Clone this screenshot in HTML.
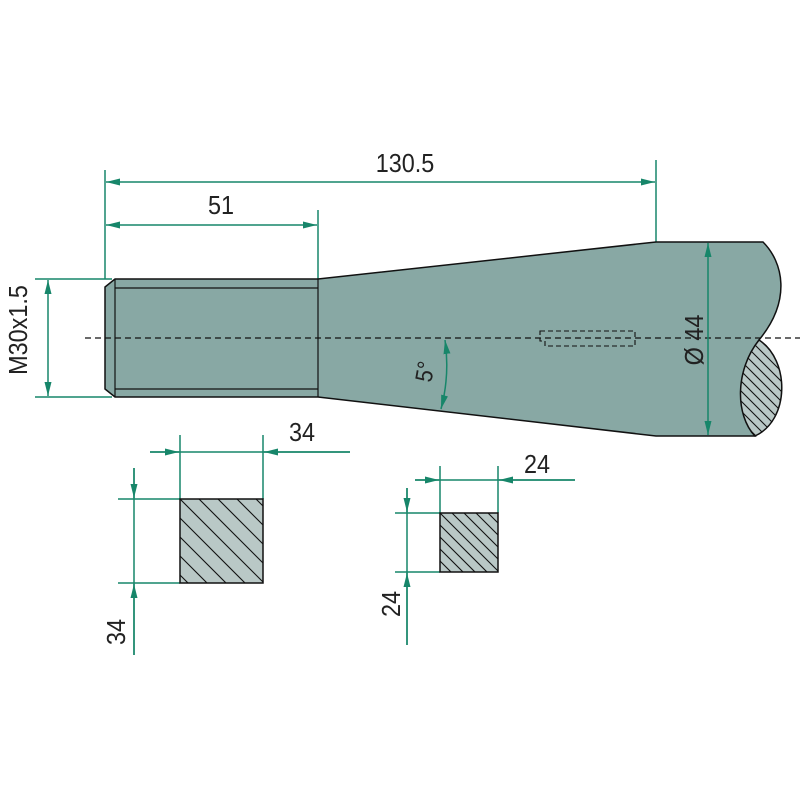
<!DOCTYPE html>
<html><head><meta charset="utf-8"><style>html,body{margin:0;padding:0;background:#fff}svg{display:block}text{font-family:"Liberation Sans",sans-serif;fill:#222}</style></head><body>
<svg width="800" height="800" viewBox="0 0 800 800" xmlns="http://www.w3.org/2000/svg">
<defs>
<marker id="a" viewBox="0 0 14 7" refX="14" refY="3.5" markerWidth="14" markerHeight="7" orient="auto-start-reverse" markerUnits="userSpaceOnUse"><path d="M0,0 L14,3.5 L0,7 z" fill="#17866a"/></marker>
<clipPath id="c1"><rect x="180" y="499" width="83" height="84"/></clipPath>
<clipPath id="c2"><rect x="440" y="513" width="58" height="59"/></clipPath>
<clipPath id="c3"><path d="M759,340 C790,360 790,420 755,436 C735,415 735,370 759,340 z"/></clipPath>
</defs>
<g stroke="#17866a" stroke-width="1.5" fill="none">
<line x1="105" y1="170" x2="105" y2="279"/><line x1="656" y1="160" x2="656" y2="242"/>
<line x1="318" y1="210" x2="318" y2="279"/>
<line x1="106" y1="182" x2="655" y2="182" marker-start="url(#a)" marker-end="url(#a)"/>
<line x1="106" y1="225" x2="317" y2="225" marker-start="url(#a)" marker-end="url(#a)"/>
<line x1="35" y1="279" x2="112" y2="279"/><line x1="35" y1="397" x2="112" y2="397"/>
<line x1="48" y1="280" x2="48" y2="396" marker-start="url(#a)" marker-end="url(#a)"/>
<line x1="180" y1="435" x2="180" y2="499"/><line x1="263" y1="435" x2="263" y2="499"/>
<line x1="150" y1="452" x2="350" y2="452"/>
<line x1="150" y1="452" x2="179" y2="452" marker-end="url(#a)"/><line x1="350" y1="452" x2="264" y2="452" marker-end="url(#a)"/>
<line x1="118" y1="499" x2="180" y2="499"/><line x1="118" y1="583" x2="180" y2="583"/>
<line x1="134" y1="468" x2="134" y2="655"/>
<line x1="134" y1="468" x2="134" y2="498" marker-end="url(#a)"/><line x1="134" y1="655" x2="134" y2="584" marker-end="url(#a)"/>
<line x1="440" y1="466" x2="440" y2="513"/><line x1="498" y1="466" x2="498" y2="513"/>
<line x1="415" y1="480" x2="575" y2="480"/>
<line x1="415" y1="480" x2="439" y2="480" marker-end="url(#a)"/><line x1="575" y1="480" x2="499" y2="480" marker-end="url(#a)"/>
<line x1="395" y1="513" x2="440" y2="513"/><line x1="395" y1="572" x2="440" y2="572"/>
<line x1="407" y1="488" x2="407" y2="645"/>
<line x1="407" y1="488" x2="407" y2="512" marker-end="url(#a)"/><line x1="407" y1="645" x2="407" y2="573" marker-end="url(#a)"/>
</g>
<path d="M115,279 L318,279 L656,242 L763,242 C783,262 792,300 759,340 C738,370 735,415 755,436 L656,436 L318,397 L115,397 L105,389 L105,287 z" fill="#88a8a4" stroke="#111" stroke-width="1.5"/>
<g stroke="#111" stroke-width="1.2" fill="none">
<line x1="115" y1="279" x2="115" y2="397"/><line x1="115" y1="288" x2="318" y2="288"/><line x1="115" y1="389" x2="318" y2="389"/><line x1="318" y1="279" x2="318" y2="397"/>
</g>
<path d="M759,340 C790,360 790,420 755,436 C735,415 735,370 759,340 z" fill="#b9c8c6" stroke="#111" stroke-width="1.5"/>
<g clip-path="url(#c3)" stroke="#111" stroke-width="1.1">
<path d="M700,300 l120,120 M700,310 l120,120 M700,320 l120,120 M700,330 l120,120 M700,340 l120,120 M700,350 l120,120 M700,360 l120,120 M700,370 l120,120 M700,380 l120,120 M700,390 l120,120 M700,290 l120,120 M700,280 l120,120 M700,270 l120,120 M700,260 l120,120 M700,250 l120,120 M700,240 l120,120"/>
</g>
<rect x="180" y="499" width="83" height="84" fill="#b9c8c6" stroke="#111" stroke-width="1.5"/>
<g clip-path="url(#c1)" stroke="#111" stroke-width="1.1">
<path d="M180,480 l110,110 M180,499 l110,110 M180,518 l110,110 M180,537 l110,110 M180,556 l110,110 M180,575 l110,110 M199,499 l110,110 M218,499 l110,110 M237,499 l110,110 M256,499 l110,110"/>
</g>
<rect x="440" y="513" width="58" height="59" fill="#b9c8c6" stroke="#111" stroke-width="1.5"/>
<g clip-path="url(#c2)" stroke="#111" stroke-width="1.1">
<path d="M440,513 l80,80 M440,525 l80,80 M440,537 l80,80 M440,549 l80,80 M440,561 l80,80 M452,513 l80,80 M464,513 l80,80 M476,513 l80,80 M488,513 l80,80"/>
</g>
<line x1="85" y1="338" x2="800" y2="338" stroke="#111" stroke-width="1.3" stroke-dasharray="6,4"/>
<path d="M540,331 L635,331 L635,346 L545,346 L545,341 L540,341 z" fill="none" stroke="#111" stroke-width="1.1" stroke-dasharray="5,3"/>
<line x1="708" y1="243" x2="708" y2="435" stroke="#17866a" stroke-width="1.5" marker-start="url(#a)" marker-end="url(#a)"/>
<path d="M445,340 Q450,375 441,409" fill="none" stroke="#17866a" stroke-width="1.5" marker-start="url(#a)" marker-end="url(#a)"/>
<g font-size="26">
<text transform="translate(405,172) scale(0.9,1)" text-anchor="middle">130.5</text>
<text transform="translate(221,214) scale(0.9,1)" text-anchor="middle">51</text>
<text transform="translate(27,330) rotate(-90) scale(0.9,1)" text-anchor="middle">M30x1.5</text>
<text transform="translate(703,340) rotate(-90) scale(0.9,1)" text-anchor="middle">Ø 44</text>
<text transform="translate(433,373) rotate(-80) scale(0.9,1)" text-anchor="middle" font-size="24">5°</text>
<text transform="translate(302,441) scale(0.9,1)" text-anchor="middle">34</text>
<text transform="translate(125,632) rotate(-90) scale(0.9,1)" text-anchor="middle">34</text>
<text transform="translate(537,473) scale(0.9,1)" text-anchor="middle">24</text>
<text transform="translate(400,604) rotate(-90) scale(0.9,1)" text-anchor="middle">24</text>
</g>
</svg>
</body></html>
